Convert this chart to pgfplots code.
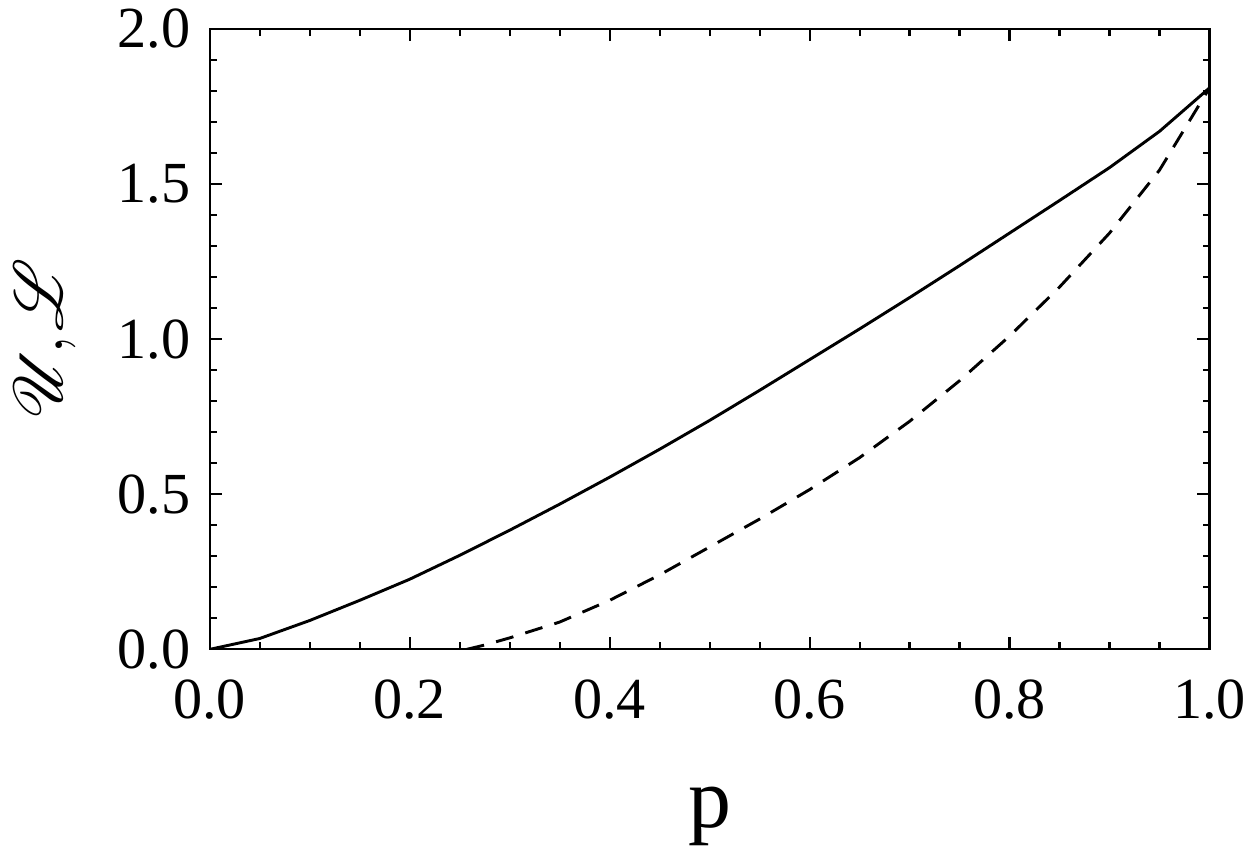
\documentclass[border=0pt]{standalone}
\usepackage{pgfplots}
\pgfplotsset{compat=1.18}
\usepackage{mathrsfs}
\usepackage{fontspec}
\setmainfont{Liberation Serif}

\begin{document}
\begin{tikzpicture}
\begin{axis}[
    scale only axis,
    width=361pt, height=224pt,
    xmin=0, xmax=1, ymin=0, ymax=2,
    xtick={0,0.2,0.4,0.6,0.8,1.0},
    ytick={0,0.5,1.0,1.5,2.0},
    minor x tick num=3, minor y tick num=4,
    tick align=inside, xtick pos=both, ytick pos=both,
    major tick length=4.4pt, minor tick length=2.5pt,
    axis line style={line width=0.75pt}, tick style={line width=0.75pt, black},
    /pgf/number format/.cd, fixed, fixed zerofill, precision=1, assume math mode=true,
    /pgfplots/.cd,
    ticklabel style={font=\fontsize{21}{25}\selectfont},
    xticklabel style={inner sep=1.5pt, yshift=-9.2pt},
    yticklabel style={xshift=-3.5pt},
    xlabel={p},
    ylabel={$\mathscr{U}\mkern-2mu{,}\mkern1mu\mathscr{L}$},
    xlabel style={font=\fontsize{31}{36}\selectfont, inner sep=1.5pt,
                  at={(axis description cs:0.5,-0.27)}, anchor=center},
    ylabel style={font=\fontsize{35}{40}\selectfont, inner sep=5pt,
                  at={(axis description cs:-0.165,0.5)}, anchor=center},
]
  % upper bound (solid)
  \addplot[black, line width=1.05pt] coordinates {
    (0,0) (0.05,0.035) (0.1,0.093) (0.15,0.158) (0.2,0.226) (0.25,0.303)
    (0.3,0.384) (0.35,0.468) (0.4,0.555) (0.45,0.645) (0.5,0.738)
    (0.55,0.835) (0.6,0.934) (0.65,1.033) (0.7,1.134) (0.75,1.237)
    (0.8,1.342) (0.85,1.447) (0.9,1.553) (0.95,1.67) (1.0,1.81)
  };
  % lower bound (dashed)
  \addplot[black, line width=1.05pt, dash pattern=on 6.5pt off 4.5pt] coordinates {
    (0.257,0) (0.275,0.014) (0.3,0.037) (0.35,0.088) (0.4,0.158) (0.45,0.24)
    (0.5,0.33) (0.55,0.42) (0.6,0.515) (0.65,0.618) (0.7,0.735)
    (0.75,0.866) (0.8,1.01) (0.85,1.168) (0.9,1.342) (0.95,1.545) (1.0,1.81)
  };
\end{axis}
\end{tikzpicture}
\end{document}
